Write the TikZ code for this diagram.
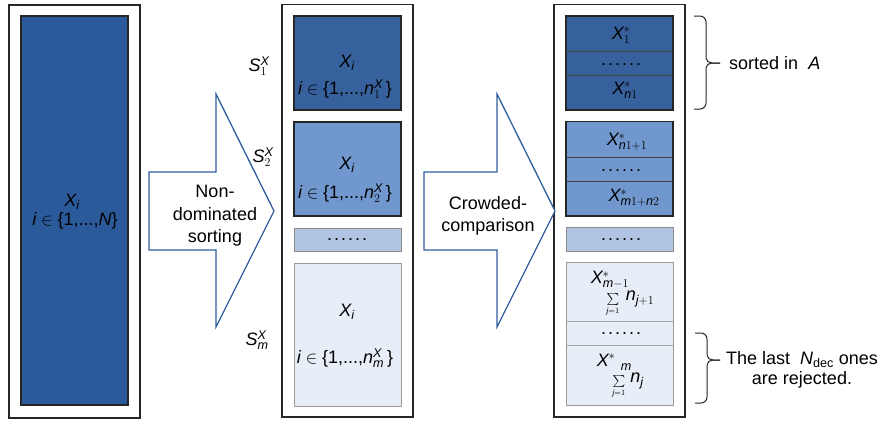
\documentclass[tikz,border=0pt]{standalone}
\usepackage{amsmath}
\usepackage{fontspec}
\setmainfont{Liberation Sans}
\definecolor{bigblue}{HTML}{2B5A9A}
\definecolor{blueA}{HTML}{36619D}
\definecolor{blueB}{HTML}{7098CE}
\definecolor{blueC}{HTML}{AFC3E3}
\definecolor{blueD}{HTML}{E8EEF7}
\definecolor{arrowblue}{HTML}{2F5E9E}
\newcommand{\sdots}{.\hspace{2pt}.\hspace{2pt}.\hspace{2pt}.\hspace{2pt}.\hspace{2pt}.}
\newcommand{\iset}[1]{$\mathit{i}\in\text{\{1,...,}#1\,\text{\}}$}
\newcommand{\sumj}{{\fontsize{12}{12}\selectfont$\textstyle\sum\limits_{\mathit{j}=1}$}}
\begin{document}
\begin{tikzpicture}[x=1pt,y=-1pt,
  font=\fontsize{18}{22.5}\selectfont,
  outerbox/.style={draw=black!85, line width=1.3pt, fill=white},
  darkblk/.style={draw=black!85, line width=1.4pt},
  lightblk/.style={draw=black!40, line width=1pt},
  divd/.style={draw=black!75, line width=0.8pt},
  divl/.style={draw=black!35, line width=0.8pt},
  bigarrow/.style={draw=arrowblue, line width=1.3pt, fill=white, line join=miter},
  lbl/.style={inner sep=0pt, align=center},
  brace/.style={draw=black!85, line width=1pt}]
\useasboundingbox (0,0) rectangle (885,421);

% left column
\draw[outerbox] (9,5) rectangle (140,418);
\draw[darkblk, fill=bigblue] (21,16) rectangle (128,405);
\node[lbl] (xl) at (72,202) {$\mathit{X}_{\mathit{i}}$};
\node[lbl] (il) at (75,221) {$\mathit{i}\in\text{\{1,...,}\mathit{N}\text{\}}$};

% arrow 1
\draw[bigarrow] (149,172) -- (216,172) -- (216,94) -- (274,211) -- (216,327) -- (216,250) -- (149,250) -- cycle;
\node[lbl] (t1) at (215,216) {Non-\\dominated\\sorting};

% middle column
\draw[outerbox] (282,4.5) rectangle (413,417);
\draw[darkblk, fill=blueA] (294,16) rectangle (401,110);
\draw[darkblk, fill=blueB] (294,122) rectangle (401,216);
\draw[lightblk, draw=black!45, fill=blueC] (294,228) rectangle (401,251);
\draw[lightblk, fill=blueD] (294,263) rectangle (401,406);
\node[lbl] (m1x) at (347,63) {$\mathit{X}_{\mathit{i}}$};
\node[lbl] (m1i) at (345,89) {\iset{\mathit{n}^{\mathit{X}}_{1}}};
\node[lbl] (m2x) at (347,165) {$\mathit{X}_{\mathit{i}}$};
\node[lbl] (m2i) at (345,193) {\iset{\mathit{n}^{\mathit{X}}_{2}}};
\node[lbl] (mdots) at (347,240) {\sdots};
\node[lbl] (m3x) at (347,312) {$\mathit{X}_{\mathit{i}}$};
\node[lbl] (m3i) at (345,358) {\iset{\mathit{n}^{\mathit{X}}_{\mathit{m}}}};

% S labels
\node[lbl] (s1) at (259,66) {$\mathit{S}^{\mathit{X}}_{1}$};
\node[lbl] (s2) at (263,157) {$\mathit{S}^{\mathit{X}}_{2}$};
\node[lbl] (sm) at (257,340) {$\mathit{S}^{\mathit{X}}_{\mathit{m}}$};

% right column
\draw[outerbox] (554,4.5) rectangle (685,417);
% arrow 2
\draw[bigarrow] (424,172) -- (497,172) -- (497,94) -- (555,211) -- (497,327) -- (497,250) -- (424,250) -- cycle;
\node[lbl] (t2) at (488,216) {Crowded-\\comparison};

\draw[darkblk, fill=blueA] (566,16) rectangle (673,110);
\draw[divd] (566,51.7) -- (673,51.7);
\draw[divd] (566,75.7) -- (673,75.7);
\draw[darkblk, fill=blueB] (566,121.7) rectangle (673,216);
\draw[divd] (566,157) -- (673,157);
\draw[divd] (566,181.7) -- (673,181.7);
\draw[lightblk, draw=black!45, fill=blueC] (566,227) rectangle (673,251.7);
\draw[lightblk, fill=blueD] (566,262.7) rectangle (673,405);
\draw[divl] (566,321.7) -- (673,321.7);
\draw[divl] (566,345) -- (673,345);

\node[lbl] (a1) at (621,35) {$\mathit{X}^{*}_{1}$};
\node[lbl] (adots) at (621,65) {\sdots};
\node[lbl] (a3) at (625,90) {$\mathit{X}^{*}_{\mathit{n}1}$};
\node[lbl] (b1) at (627,142) {$\mathit{X}^{*}_{\mathit{n}1+1}$};
\node[lbl] (bdots) at (621,171) {\sdots};
\node[lbl] (b3) at (634,198) {$\mathit{X}^{*}_{\mathit{m}1+\mathit{n}2}$};
\node[lbl] (rdots) at (621,240) {\sdots};
\node[lbl] (c1) at (610,280) {$\mathit{X}^{*}_{\mathit{m}-1}$};
\node[lbl] (c1sum) at (613,305) {\sumj};
\node[lbl] (c1n) at (640,299) {$\mathit{n}_{\mathit{j}+1}$};
\node[lbl] (cdots) at (621,334) {\sdots};
\node[lbl] (c3x) at (606,360) {$\mathit{X}^{*}$};
\node[lbl] (c3m) at (626,367) {$\scriptstyle\mathit{m}$};
\node[lbl] (c3sum) at (619,387) {\sumj};
\node[lbl] (c3n) at (637,381) {$\mathit{n}_{\mathit{j}}$};

% braces
\draw[brace] (694,16) -- (700,16) to[out=0,in=90] (706,22) -- (706,58) to[out=-90,in=180] (712,63) -- (720,63);
\draw[brace] (720,63) -- (712,63) to[out=180,in=90] (706,68) -- (706,103) to[out=-90,in=0] (700,109) -- (694,109);
\node[lbl, anchor=west] (sorted) at (729,63) {sorted in\ \ \textit{A}};

\draw[brace] (695,333) -- (701,333) to[out=0,in=90] (707,339) -- (707,355) to[out=-90,in=180] (713,360) -- (720,360);
\draw[brace] (720,360) -- (713,360) to[out=180,in=90] (707,365) -- (707,397) to[out=-90,in=0] (701,403) -- (695,403);
\node[lbl, font=\fontsize{18}{20}\selectfont] (rej) at (802,370) {The last\ \ $\mathit{N}_{\text{dec}}$ ones\\are rejected.};
\end{tikzpicture}
\end{document}
